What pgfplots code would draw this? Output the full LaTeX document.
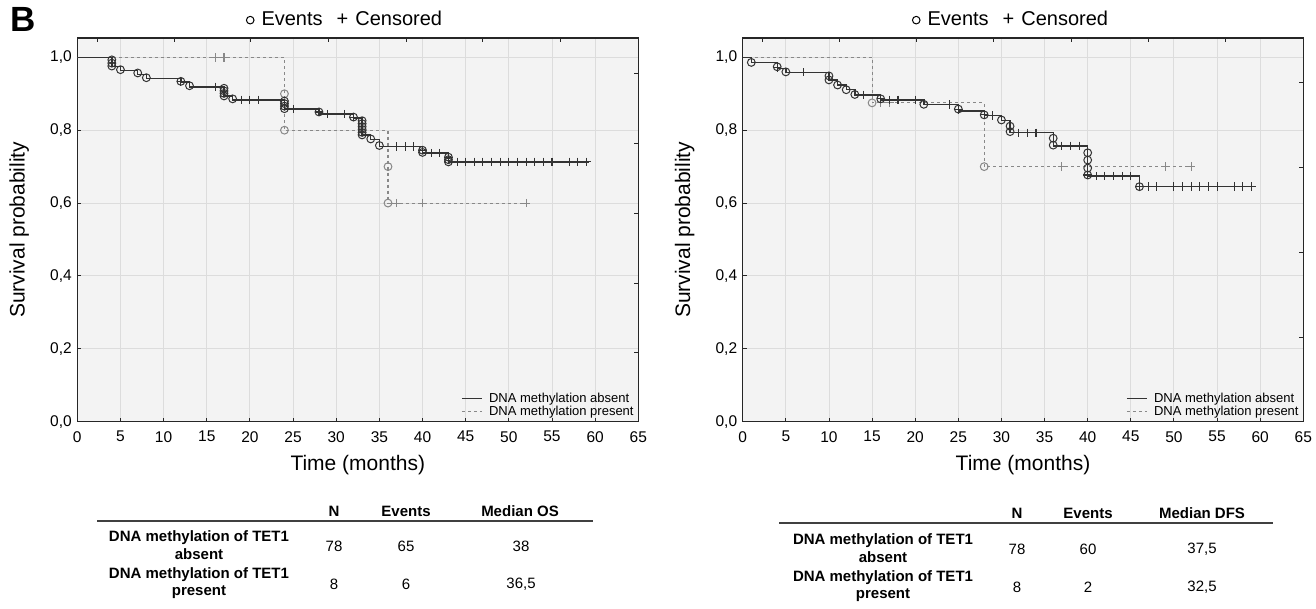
\documentclass[border=0pt]{standalone}
\usepackage{fontspec}
\setmainfont{Liberation Sans}
\usepackage{pgfplots}
\pgfplotsset{compat=1.18}
\definecolor{bgc}{HTML}{F3F3F3}
\definecolor{gridc}{HTML}{DCDCDC}
\definecolor{absc}{HTML}{333333}
\definecolor{prec}{HTML}{888888}
\pgfplotsset{
  kmbase/.style={
    scale only axis, width=561pt, height=383.7pt,
    xmin=0, xmax=65, ymin=0, ymax=1.053,
  },
  kmstyle/.style={
    kmbase,
    xtick={0,5,...,65}, ytick={0,0.2,0.4,0.6,0.8,1.0},
    xtick pos=bottom, ytick pos=left,
    tick align=inside, major tick length=4pt,
    tick style={black!85, line width=0.9pt},
    grid=major, major grid style={color=gridc, line width=0.9pt},
    axis background/.style={fill=bgc},
    axis line style={black!85, line width=1.3pt},
    /pgf/number format/assume math mode=true,
    ticklabel style={font=\fontsize{15.5}{17}\selectfont},
    xticklabel style={yshift=-6pt},
    yticklabel style={/pgf/number format/.cd, fixed, fixed zerofill, precision=1, use comma, /tikz/.cd, xshift=-2pt},
    every axis x label/.style={at={(axis description cs:0.5,0)}, yshift=-43pt, anchor=center, font=\fontsize{21}{24}\selectfont},
    every axis y label/.style={at={(axis description cs:0,0.5)}, xshift=-58pt, rotate=90, anchor=center, font=\fontsize{21}{24}\selectfont},
    xlabel={Time (months)}, ylabel={Survival probability},
    legend image code/.code={\draw[#1] (0pt,0pt) -- (20pt,0pt);},
    legend style={draw=none, fill=none, at={(1,0)}, anchor=south east, xshift=-3pt, yshift=3pt,
      font=\fontsize{13}{14}\selectfont, inner sep=0pt, row sep=-1pt,
      nodes={inner sep=1.5pt},
      /tikz/every odd column/.append style={column sep=5pt}},
    legend cell align=left,
  },
  absline/.style={const plot, absc, line width=1.4pt},
  preline/.style={const plot, prec, line width=1.1pt, dash pattern=on 3pt off 3pt},
  absev/.style={only marks, mark=o, mark size=3.9pt, mark options={absc, line width=1pt, solid}},
  abscen/.style={only marks, mark=+, mark size=4.2pt, mark options={absc, line width=1.1pt, solid}},
  preev/.style={only marks, mark=o, mark size=3.9pt, mark options={prec, line width=1pt, solid}},
  precen/.style={only marks, mark=+, mark size=4.2pt, mark options={prec, line width=1.1pt, solid}},
  extraticks/.style={
    kmbase, axis line style={draw=none}, xtick pos=right, ytick pos=right,
    tick align=inside, major tick length=4pt, tick style={black!85, line width=0.9pt},
    xticklabels={}, yticklabels={},
    xtick={2.28,11.2,20.1,29.1,38.1,47.0,56.0},
  },
}
\begin{document}
\begin{tikzpicture}[x=1pt,y=1pt]
\useasboundingbox (0,0) rectangle (1316,608);

% ---------------- Left panel (OS) ----------------
\begin{axis}[kmstyle, at={(77.3pt,186.3pt)}, anchor=south west]
\addlegendimage{absc, line width=1.3pt}
\addlegendentry{DNA methylation absent}
\addlegendimage{prec, line width=1.1pt, dash pattern=on 3pt off 3pt}
\addlegendentry{DNA methylation present}
% present
\addplot[preline, forget plot] coordinates {(0,1.0) (24,0.8) (36,0.6) (52,0.6)};
\addplot[preev, forget plot] coordinates {(24,0.9) (24,0.8) (36,0.7) (36,0.6)};
\addplot[precen, forget plot] coordinates {(16,1.0) (17,1.0) (37,0.6) (40,0.6) (52,0.6)};
% absent
\addplot[absline, forget plot] coordinates {(0,1.0) (4,0.974) (5,0.963) (7,0.953) (8,0.942) (12,0.932) (13,0.919) (17,0.894) (18,0.883) (24,0.858) (28,0.844) (32,0.833) (33,0.787) (34,0.774) (35,0.755) (40,0.737) (43,0.713) (59.3,0.713)};
\addplot[absev, forget plot] coordinates {(4,0.993) (4,0.984) (4,0.976) (5,0.966) (7,0.957) (8,0.944) (12,0.934) (13,0.922) (17,0.915) (17,0.908) (17,0.901) (17,0.894) (18,0.886) (24,0.880) (24,0.873) (24,0.866) (24,0.859) (28,0.850) (32,0.836) (33,0.826) (33,0.818) (33,0.810) (33,0.802) (33,0.794) (33,0.787) (34,0.776) (35,0.758) (40,0.745) (40,0.739) (43,0.726) (43,0.719) (43,0.713)};
\addplot[abscen, forget plot] coordinates {(12,0.934) (16,0.919) (19,0.883) (20,0.883) (21,0.883) (25,0.858) (28,0.850) (29,0.844) (31,0.844) (32,0.836) (37,0.755) (38,0.755) (39,0.755) (40,0.745) (41,0.737) (42,0.737) (43,0.726) (44,0.713) (45,0.713) (46,0.713) (47,0.713) (48,0.713) (49,0.713) (50,0.713) (51,0.713) (52,0.713) (53,0.713) (54,0.713) (55,0.713) (57,0.713) (58,0.713) (59,0.713)};
\end{axis}
\begin{axis}[extraticks, at={(77.3pt,186.3pt)}, anchor=south west, ytick={0.190,0.380,0.572,0.764,0.956}]
\addplot[draw=none, forget plot] coordinates {(0,0)};
\end{axis}

% ---------------- Right panel (DFS) ----------------
\begin{axis}[kmstyle, at={(742.7pt,186.3pt)}, anchor=south west, width=560.6pt]
\addlegendimage{absc, line width=1.3pt}
\addlegendentry{DNA methylation absent}
\addlegendimage{prec, line width=1.1pt, dash pattern=on 3pt off 3pt}
\addlegendentry{DNA methylation present}
% present
\addplot[preline, forget plot] coordinates {(0,1.0) (15,0.875) (28,0.7) (52,0.7)};
\addplot[preev, forget plot] coordinates {(15,0.875) (28,0.7)};
\addplot[precen, forget plot] coordinates {(16,0.875) (17,0.875) (37,0.7) (49,0.7) (52,0.7)};
% absent
\addplot[absline, forget plot] coordinates {(0,1.0) (1,0.985) (4,0.970) (5,0.959) (10,0.938) (11,0.924) (12,0.911) (13,0.897) (16,0.883) (21,0.870) (25,0.853) (28,0.840) (30,0.827) (31,0.793) (36,0.757) (40,0.674) (46,0.645) (59.4,0.645)};
\addplot[absev, forget plot] coordinates {(1,0.986) (4,0.974) (5,0.960) (10,0.949) (10,0.938) (11,0.924) (12,0.911) (13,0.898) (16,0.886) (21,0.871) (25,0.858) (28,0.842) (30,0.828) (31,0.811) (31,0.796) (36,0.778) (36,0.759) (40,0.738) (40,0.718) (40,0.696) (40,0.677) (46,0.645)};
\addplot[abscen, forget plot] coordinates {(4,0.972) (7,0.959) (14,0.897) (16,0.886) (17,0.883) (18,0.883) (20,0.883) (24,0.870) (25,0.856) (28,0.842) (29,0.840) (32,0.793) (33,0.793) (34,0.793) (37,0.757) (38,0.757) (39,0.757) (40,0.677) (41,0.674) (42,0.674) (43,0.674) (44,0.674) (45,0.674) (46,0.645) (47,0.645) (48,0.645) (50,0.645) (51,0.645) (52,0.645) (53,0.645) (54,0.645) (55,0.645) (57,0.645) (58,0.645) (59,0.645)};
\end{axis}
\begin{axis}[extraticks, at={(742.7pt,186.3pt)}, anchor=south west, width=560.6pt, ytick={0.232,0.465,0.698,0.931}]
\addplot[draw=none, forget plot] coordinates {(0,0)};
\end{axis}

% ---------------- Panel letter and titles ----------------
\node[font=\bfseries\fontsize{35}{38}\selectfont] at (23,589) {B};
\node[font=\fontsize{20}{22}\selectfont] at (344,590) {\tikz[baseline=-1.5pt]\draw[line width=1pt] (0,3.5pt) circle (3.8pt);\hspace{7pt}Events\hspace{14pt}+\hspace{7pt}Censored};
\node[font=\fontsize{20}{22}\selectfont] at (1010,590) {\tikz[baseline=-1.5pt]\draw[line width=1pt] (0,3.5pt) circle (3.8pt);\hspace{7pt}Events\hspace{14pt}+\hspace{7pt}Censored};

% ---------------- Left table ----------------
\begin{scope}[every node/.style={font=\fontsize{15}{17.5}\selectfont, align=center, inner sep=0pt}]
\node[font=\bfseries\fontsize{15}{17.5}\selectfont] at (334,97) {N};
\node[font=\bfseries\fontsize{15}{17.5}\selectfont] at (406,97) {Events};
\node[font=\bfseries\fontsize{15}{17.5}\selectfont] at (520,97) {Median OS};
\draw[black!75, line width=1.5pt] (97,87) -- (593,87);
\node[font=\bfseries\fontsize{15}{17.5}\selectfont] at (199,63) {DNA methylation of TET1\\absent};
\node at (334,62) {78};
\node at (406,62) {65};
\node at (521,62) {38};
\node[font=\bfseries\fontsize{15}{17.5}\selectfont] at (199,25) {DNA methylation of TET1\\present};
\node at (334,24) {8};
\node at (406,24) {6};
\node at (521,24) {36,5};
% ---------------- Right table ----------------
\node[font=\bfseries\fontsize{15}{17.5}\selectfont] at (1017,95) {N};
\node[font=\bfseries\fontsize{15}{17.5}\selectfont] at (1088,95) {Events};
\node[font=\bfseries\fontsize{15}{17.5}\selectfont] at (1202,95) {Median DFS};
\draw[black!75, line width=1.5pt] (779,85) -- (1273,85);
\node[font=\bfseries\fontsize{15}{17.5}\selectfont] at (883,60) {DNA methylation of TET1\\absent};
\node at (1017,59) {78};
\node at (1088,59) {60};
\node at (1202,59) {37,5};
\node[font=\bfseries\fontsize{15}{17.5}\selectfont] at (883,22) {DNA methylation of TET1\\present};
\node at (1017,21) {8};
\node at (1088,21) {2};
\node at (1202,21) {32,5};
\end{scope}
\end{tikzpicture}
\end{document}
